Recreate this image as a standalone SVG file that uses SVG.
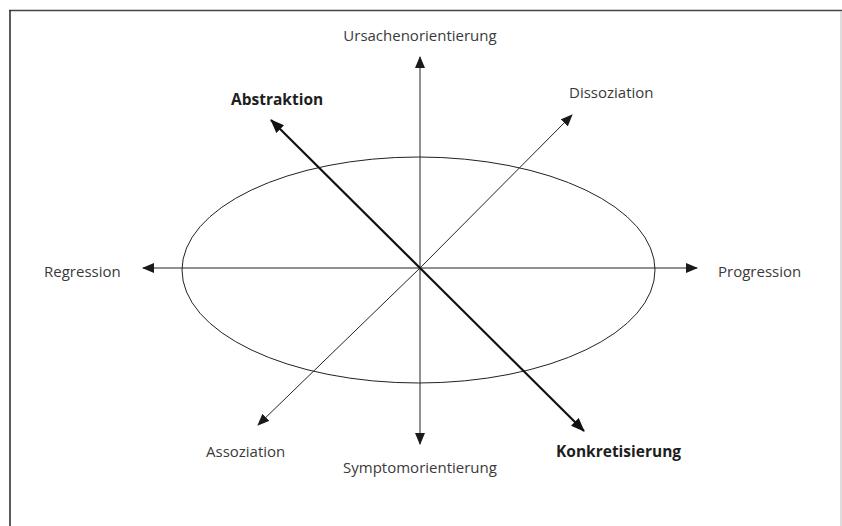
<svg xmlns="http://www.w3.org/2000/svg" width="842" height="526" viewBox="0 0 842 526">
<defs>
<marker id="ah" viewBox="0 0 12 10" refX="11" refY="5" markerWidth="12" markerHeight="10" markerUnits="userSpaceOnUse" orient="auto">
<path d="M0,0 L12,5 L0,10 Z" fill="#1a1a1a"/>
</marker>
<marker id="ahb" viewBox="0 0 14 11" refX="13" refY="5.5" markerWidth="14" markerHeight="11" markerUnits="userSpaceOnUse" orient="auto">
<path d="M0,0 L14,5.5 L0,11 Z" fill="#111"/>
</marker>
<style>
.lbl{font-family:"Open Sans","Noto Sans","Liberation Sans",sans-serif;font-size:15px;fill:#3a3a3a}
.b{font-weight:bold;font-size:15.5px;fill:#1e1e1e}
.ax{stroke:#222;stroke-width:1;fill:none}
.bold{stroke:#111;stroke-width:2.2;fill:none}
</style>
</defs>
<rect width="842" height="526" fill="#fff"/>
<g id="frame">
<line x1="9" y1="10.5" x2="842" y2="10.5" stroke="#444" stroke-width="1.6"/>
<line x1="10" y1="10" x2="10" y2="526" stroke="#333" stroke-width="1.6"/>
<line x1="841" y1="11" x2="841" y2="526" stroke="#bbb" stroke-width="1"/>
</g>
<g id="ellipse">
<ellipse cx="418.5" cy="270" rx="236.5" ry="113" class="ax"/>
</g>
<g id="connectors">
<line x1="420" y1="268" x2="420" y2="57" class="ax" marker-end="url(#ah)"/>
<line x1="420" y1="268" x2="420" y2="444" class="ax" marker-end="url(#ah)"/>
<line x1="420" y1="268" x2="143" y2="268" class="ax" marker-end="url(#ah)"/>
<line x1="420" y1="268" x2="697" y2="268" class="ax" marker-end="url(#ah)"/>
<line x1="420" y1="268" x2="572" y2="115" class="ax" marker-end="url(#ah)"/>
<line x1="420" y1="268" x2="258" y2="425" class="ax" marker-end="url(#ah)"/>
<line x1="420" y1="268" x2="271" y2="120" class="bold" marker-end="url(#ahb)"/>
<line x1="420" y1="268" x2="584" y2="431" class="bold" marker-end="url(#ahb)"/>
</g>
<g id="n-ursache"><text class="lbl" x="420" y="41" text-anchor="middle">Ursachenorientierung</text></g>
<g id="n-abstraktion"><text class="lbl b" x="231" y="105">Abstraktion</text></g>
<g id="n-dissoziation"><text class="lbl" x="569" y="98">Dissoziation</text></g>
<g id="n-regression"><text class="lbl" x="44" y="277">Regression</text></g>
<g id="n-progression"><text class="lbl" x="718" y="277">Progression</text></g>
<g id="n-assoziation"><text class="lbl" x="206" y="457">Assoziation</text></g>
<g id="n-symptom"><text class="lbl" x="420" y="473" text-anchor="middle">Symptomorientierung</text></g>
<g id="n-konkret"><text class="lbl b" x="556" y="457">Konkretisierung</text></g>
</svg>
